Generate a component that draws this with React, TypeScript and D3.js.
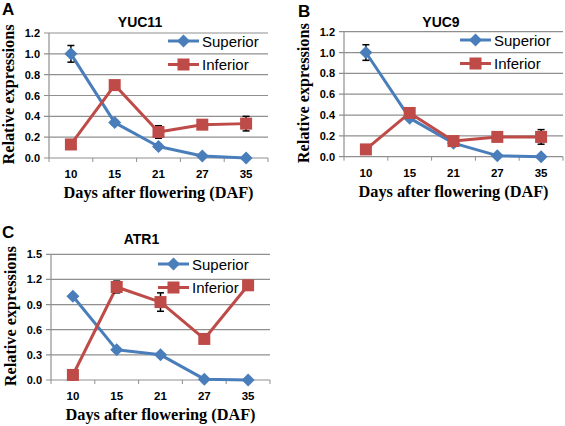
import React from "react";
import * as d3 from "d3";

// ---- data ----
const categories = ["10", "15", "21", "27", "35"];
const seriesNames = ["Superior", "Inferior"];

const yuc11Superior = [1.0, 0.34, 0.11, 0.02, 0.0];
const yuc11SuperiorErr = [0.08, 0.02, 0.02, 0.01, 0.0];
const yuc11Inferior = [0.13, 0.7, 0.25, 0.32, 0.33];
const yuc11InferiorErr = [0.02, 0.03, 0.06, 0.03, 0.07];

const yuc9Superior = [1.0, 0.37, 0.13, 0.01, 0.0];
const yuc9SuperiorErr = [0.075, 0.02, 0.03, 0.01, 0.0];
const yuc9Inferior = [0.07, 0.42, 0.15, 0.19, 0.19];
const yuc9InferiorErr = [0.01, 0.04, 0.03, 0.04, 0.07];

const atr1Superior = [1.0, 0.36, 0.3, 0.01, 0.0];
const atr1SuperiorErr = [0.02, 0.02, 0.02, 0.01, 0.0];
const atr1Inferior = [0.06, 1.11, 0.93, 0.49, 1.13];
const atr1InferiorErr = [0.01, 0.07, 0.11, 0.03, 0.03];

const ticks12 = [0, 0.2, 0.4, 0.6, 0.8, 1.0, 1.2];
const ticks15 = [0, 0.3, 0.6, 0.9, 1.2, 1.5];

const xTitle = "Days after flowering (DAF)";
const yTitle = "Relative expressions";

// ---- styles ----
const BLUE = "#4A7EBB";
const RED = "#BE4B48";
const GRID = "#8f8f8f";
const SANS = "'Liberation Sans', Arial, Helvetica, sans-serif";
const SERIF = "'Liberation Serif', 'Times New Roman', serif";

type PanelProps = {
  letter: string;
  title: string;
  sup: number[];
  supErr: number[];
  inf: number[];
  infErr: number[];
  ticks: number[];
  left: number;
  right: number;
  top: number;
  bottom: number;
  letterX: number;
  letterY: number;
  titleX: number;
  titleY: number;
  legendX: number;
  legendY: number;
};

function Panel(p: PanelProps) {
  const yMax = p.ticks[p.ticks.length - 1];
  const x = d3.scaleBand<string>().domain(categories).range([p.left, p.right]);
  const cx = (c: string) => (x(c) as number) + x.bandwidth() / 2;
  const y = d3.scaleLinear().domain([0, yMax]).range([p.bottom, p.top]);
  const line = d3
    .line<number>()
    .x((_, i) => cx(categories[i]))
    .y((d) => y(d));
  const fmt = d3.format(".1f");
  const sq = 6;
  const dm = 6.5;
  const diamond = (px: number, py: number) =>
    `M${px},${py - dm}L${px + dm},${py}L${px},${py + dm}L${px - dm},${py}Z`;
  const series = [
    { name: seriesNames[0], vals: p.sup, err: p.supErr, color: BLUE, shape: "diamond" },
    { name: seriesNames[1], vals: p.inf, err: p.infErr, color: RED, shape: "square" },
  ];
  const boundaries = [p.left, ...categories.map((c) => (x(c) as number) + x.bandwidth())];
  return (
    <g>
      <text x={p.letterX} y={p.letterY} fontFamily={SANS} fontWeight="bold" fontSize={17} fill="#000">
        {p.letter}
      </text>
      <text x={p.titleX} y={p.titleY} textAnchor="middle" fontFamily={SANS} fontWeight="bold" fontSize={14} fill="#000">
        {p.title}
      </text>
      {p.ticks.map((t) => (
        <g key={t}>
          <line x1={p.left - 5} x2={p.right} y1={y(t)} y2={y(t)} stroke={GRID} strokeWidth={1.2} />
          <text x={p.left - 9} y={y(t) + 4} textAnchor="end" fontFamily={SANS} fontWeight="bold" fontSize={11} fill="#000">
            {fmt(t)}
          </text>
        </g>
      ))}
      <line x1={p.left} x2={p.left} y1={p.top} y2={p.bottom} stroke={GRID} strokeWidth={1.2} />
      {boundaries.map((b, i) => (
        <line key={i} x1={b} x2={b} y1={p.bottom} y2={p.bottom + 4} stroke={GRID} strokeWidth={1} />
      ))}
      {categories.map((c) => (
        <text key={c} x={cx(c)} y={p.bottom + 20} textAnchor="middle" fontFamily={SANS} fontWeight="bold" fontSize={11.5} fill="#000">
          {c}
        </text>
      ))}
      <text
        x={(p.left + p.right) / 2}
        y={p.bottom + 40}
        textAnchor="middle"
        fontFamily={SERIF}
        fontWeight="bold"
        fontSize={16}
        fill="#000"
        textLength={190}
        lengthAdjust="spacingAndGlyphs"
      >
        {xTitle}
      </text>
      <text
        transform={`translate(${p.left - 35},${(p.top + p.bottom) / 2 - 1}) rotate(-90)`}
        textAnchor="middle"
        fontFamily={SERIF}
        fontWeight="bold"
        fontSize={16}
        fill="#000"
        textLength={140}
        lengthAdjust="spacingAndGlyphs"
      >
        {yTitle}
      </text>
      {/* legend */}
      {series.map((s, i) => {
        const ly = p.legendY + i * 23.5;
        const lx0 = p.legendX;
        const lx1 = p.legendX + 31;
        const mx = (lx0 + lx1) / 2;
        return (
          <g key={s.name}>
            <line x1={lx0} x2={lx1} y1={ly} y2={ly} stroke={s.color} strokeWidth={3} />
            {s.shape === "diamond" ? (
              <path d={diamond(mx, ly)} fill={s.color} />
            ) : (
              <rect x={mx - sq} y={ly - sq} width={sq * 2} height={sq * 2} fill={s.color} />
            )}
            <text x={lx1 + 3} y={ly + 5.5} fontFamily={SANS} fontSize={15} fill="#000">
              {s.name}
            </text>
          </g>
        );
      })}
      {/* series */}
      {series.map((s) => (
        <g key={s.name}>
          <path d={line(s.vals) as string} fill="none" stroke={s.color} strokeWidth={3} strokeLinejoin="round" />
          {s.vals.map((v, i) =>
            s.err[i] > 0 ? (
              <g key={"e" + i} stroke="#000" strokeWidth={1.5}>
                <line x1={cx(categories[i])} x2={cx(categories[i])} y1={y(v + s.err[i])} y2={y(v - s.err[i])} />
                <line x1={cx(categories[i]) - 3.5} x2={cx(categories[i]) + 3.5} y1={y(v + s.err[i])} y2={y(v + s.err[i])} />
                <line x1={cx(categories[i]) - 3.5} x2={cx(categories[i]) + 3.5} y1={y(v - s.err[i])} y2={y(v - s.err[i])} />
              </g>
            ) : null
          )}
          {s.vals.map((v, i) =>
            s.shape === "diamond" ? (
              <path key={i} d={diamond(cx(categories[i]), y(v))} fill={s.color} />
            ) : (
              <rect key={i} x={cx(categories[i]) - sq} y={y(v) - sq} width={sq * 2} height={sq * 2} fill={s.color} />
            )
          )}
        </g>
      ))}
    </g>
  );
}

export default function App() {
  return (
    <svg
      width={565}
      height={426}
      style={{ position: "absolute", left: 0, top: 0, background: "#fff" }}
    >
      <rect x={0} y={0} width={565} height={426} fill="#fff" />
      <Panel
        letter="A"
        title="YUC11"
        sup={yuc11Superior}
        supErr={yuc11SuperiorErr}
        inf={yuc11Inferior}
        infErr={yuc11InferiorErr}
        ticks={ticks12}
        left={49}
        right={268}
        top={33}
        bottom={158}
        letterX={2}
        letterY={15}
        titleX={140}
        titleY={27}
        legendX={168}
        legendY={41}
      />
      <Panel
        letter="B"
        title="YUC9"
        sup={yuc9Superior}
        supErr={yuc9SuperiorErr}
        inf={yuc9Inferior}
        infErr={yuc9InferiorErr}
        ticks={ticks12}
        left={344}
        right={563}
        top={31.7}
        bottom={156.7}
        letterX={298}
        letterY={17}
        titleX={441}
        titleY={27}
        legendX={460}
        legendY={40}
      />
      <Panel
        letter="C"
        title="ATR1"
        sup={atr1Superior}
        supErr={atr1SuperiorErr}
        inf={atr1Inferior}
        infErr={atr1InferiorErr}
        ticks={ticks15}
        left={51}
        right={270}
        top={254.3}
        bottom={380}
        letterX={2}
        letterY={238}
        titleX={141.5}
        titleY={244}
        legendX={158}
        legendY={264}
      />
    </svg>
  );
}
